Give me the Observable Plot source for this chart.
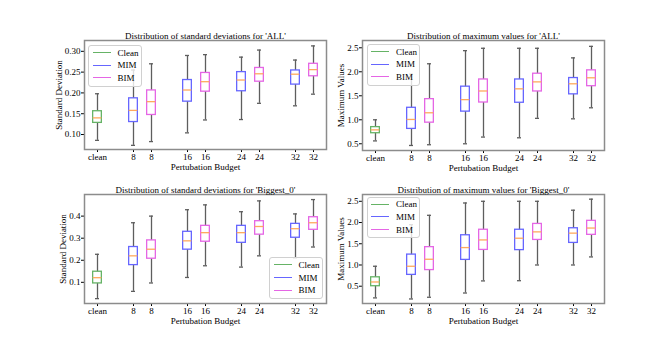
<!DOCTYPE html>
<html><head><meta charset="utf-8">
<script src="https://cdn.jsdelivr.net/npm/d3@7"></script>
<script src="https://cdn.jsdelivr.net/npm/@observablehq/plot@0.6"></script>
<style>
body{margin:0;background:#fff;}
#fig{position:relative;width:672px;height:341px;overflow:hidden;background:#fff;font-family:"Liberation Serif","Times New Roman",serif;}
#fig svg text{font-size:9px !important;font-family:"Liberation Serif","Times New Roman",serif !important;}
.panel{position:absolute;}
.legend{position:absolute;background:rgba(255,255,255,0.8);border:1px solid #d0d0d0;border-radius:3px;box-sizing:border-box;font-size:9px;color:#000;}
.legend .row{position:absolute;left:0;right:0;height:12px;line-height:12px;transform:translateY(-50%);}
.legend .sw{position:absolute;left:3.5px;width:18px;top:5.5px;border-top:1.3px solid;}
.legend .lb{position:absolute;left:28.5px;top:0;}
</style>
</head><body><div id="fig"></div>
<script>
// layout of the x axis: boxes with gaps between budget groups
const slots = ["clean","gap8","MIM 8","BIM 8","gap16","MIM 16","BIM 16","gap24","MIM 24","BIM 24","gap32","MIM 32","BIM 32"];
const boxKeys = ["clean","MIM 8","BIM 8","MIM 16","BIM 16","MIM 24","BIM 24","MIM 32","BIM 32"];
const budgets = ["clean","8","8","16","16","24","24","32","32"];
const methods = ["Clean","MIM","BIM","MIM","BIM","MIM","BIM","MIM","BIM"];
const legendLabels = ["Clean","MIM","BIM"];
const colors = ["#66b366","#6666ff","#e566e5"];

// Panel 1: standard deviations, 'ALL'
const stdAllLow  = [0.086,0.074,0.083,0.104,0.135,0.136,0.175,0.169,0.197];
const stdAllQ1   = [0.128,0.130,0.147,0.179,0.203,0.204,0.227,0.220,0.240];
const stdAllMed  = [0.140,0.158,0.179,0.207,0.227,0.231,0.246,0.245,0.256];
const stdAllQ3   = [0.156,0.187,0.206,0.231,0.248,0.250,0.260,0.254,0.270];
const stdAllHigh = [0.198,0.255,0.270,0.290,0.292,0.286,0.303,0.279,0.313];

// Panel 2: maximum values, 'ALL'
const maxAllLow  = [0.56,0.465,0.48,0.50,0.64,0.625,1.03,1.02,1.25];
const maxAllQ1   = [0.72,0.81,0.94,1.17,1.36,1.355,1.59,1.53,1.70];
const maxAllMed  = [0.79,1.007,1.146,1.42,1.60,1.645,1.79,1.75,1.875];
const maxAllQ3   = [0.847,1.25,1.43,1.69,1.84,1.84,1.96,1.87,2.03];
const maxAllHigh = [1.0,1.95,2.167,2.44,2.49,2.49,2.49,2.29,2.53];

// Panel 3: standard deviations, 'Biggest_0'
const stdBigLow  = [0.026,0.059,0.097,0.122,0.175,0.169,0.220,0.211,0.260];
const stdBigQ1   = [0.095,0.178,0.207,0.248,0.284,0.279,0.316,0.302,0.338];
const stdBigMed  = [0.121,0.220,0.250,0.288,0.325,0.325,0.353,0.343,0.370];
const stdBigQ3   = [0.148,0.260,0.290,0.329,0.356,0.356,0.377,0.365,0.395];
const stdBigHigh = [0.227,0.370,0.400,0.429,0.451,0.420,0.469,0.410,0.475];

// Panel 4: maximum values, 'Biggest_0'
const maxBigLow  = [0.225,0.20,0.24,0.34,0.625,0.63,1.0,1.0,1.19];
const maxBigQ1   = [0.50,0.767,0.88,1.12,1.355,1.35,1.59,1.52,1.71];
const maxBigMed  = [0.60,0.97,1.135,1.41,1.59,1.63,1.78,1.75,1.87];
const maxBigQ3   = [0.71,1.245,1.42,1.70,1.83,1.83,1.967,1.865,2.04];
const maxBigHigh = [0.97,1.95,2.17,2.46,2.50,2.50,2.50,2.29,2.55];

const stdTicksAll = [0.10,0.15,0.20,0.25,0.30];
const stdTicksBig = [0.1,0.2,0.3,0.4];
const maxTicks = [0.5,1.0,1.5,2.0,2.5];

const fig = document.getElementById("fig");
const FONT = '"Liberation Serif","Times New Roman",serif';

function panel(o) {
  const rows = boxKeys.map((k, i) => ({key: k, method: methods[i], low: o.low[i], q1: o.q1[i], med: o.med[i], q3: o.q3[i], high: o.high[i]}));
  const bw = (o.width - o.mL - o.mR) / slots.length;
  const whisk = "#5e5e5e";
  const plot = Plot.plot({
    width: o.width, height: o.height,
    marginLeft: o.mL, marginRight: o.mR, marginTop: o.mT, marginBottom: o.mB,
    style: {fontFamily: FONT, fontSize: "9px", background: "transparent", color: "#000", overflow: "visible"},
    x: {type: "band", domain: slots, padding: 0},
    y: {domain: o.yDomain},
    color: {domain: legendLabels, range: colors},
    marks: [
      Plot.axisX({ticks: boxKeys, tickFormat: k => budgets[boxKeys.indexOf(k)], tickSize: 3, tickPadding: 1,
        label: "Pertubation Budget", labelAnchor: "center", labelOffset: 20, labelArrow: "none"}),
      Plot.axisY({ticks: o.yTicks, tickFormat: d3.format(o.yFormat), tickSize: 3, tickPadding: 1,
        label: o.ylabel, labelAnchor: "center", labelOffset: o.yLabelOffset, labelArrow: "none"}),
      Plot.ruleX(rows, {x: "key", y1: "q3", y2: "high", stroke: whisk, strokeWidth: 1.3}),
      Plot.ruleX(rows, {x: "key", y1: "low", y2: "q1", stroke: whisk, strokeWidth: 1.3}),
      Plot.tickY(rows, {x: "key", y: "high", stroke: whisk, strokeWidth: 1.3, insetLeft: bw * 0.375, insetRight: bw * 0.375}),
      Plot.tickY(rows, {x: "key", y: "low", stroke: whisk, strokeWidth: 1.3, insetLeft: bw * 0.375, insetRight: bw * 0.375}),
      Plot.barY(rows, {x: "key", y1: "q1", y2: "q3", fill: "none", stroke: "method", strokeWidth: 1.3, insetLeft: bw * 0.25, insetRight: bw * 0.25}),
      Plot.tickY(rows, {x: "key", y: "med", stroke: "#ffa95e", strokeWidth: 1.3, insetLeft: bw * 0.25, insetRight: bw * 0.25}),
      Plot.frame({stroke: "#8c8c8c", strokeWidth: 1.5}),
      Plot.text([o.title], {frameAnchor: "top", lineAnchor: "bottom", dy: -1.5, fill: "#000"})
    ]
  });
  const div = document.createElement("div");
  div.className = "panel";
  div.style.left = o.left + "px";
  div.style.top = o.top + "px";
  div.appendChild(plot);
  fig.appendChild(div);

  // legend
  const lg = document.createElement("div");
  lg.className = "legend";
  lg.style.left = o.legend[0] + "px";
  lg.style.top = o.legend[1] + "px";
  lg.style.width = o.legend[2] + "px";
  lg.style.height = o.legend[3] + "px";
  legendLabels.forEach((name, i) => {
    const r = document.createElement("div");
    r.className = "row";
    r.style.top = (6.6 + i * 12.65) + "px";
    const sw = document.createElement("span");
    sw.className = "sw";
    sw.style.borderTopColor = colors[i];
    const lb = document.createElement("span");
    lb.className = "lb";
    lb.textContent = name;
    r.appendChild(sw); r.appendChild(lb);
    lg.appendChild(r);
  });
  fig.appendChild(lg);
}

panel({low: stdAllLow, q1: stdAllQ1, med: stdAllMed, q3: stdAllQ3, high: stdAllHigh,
  title: "Distribution of standard deviations for 'ALL'", ylabel: "Standard Deviation",
  yDomain: [0.064, 0.326], yTicks: stdTicksAll, yFormat: ".2f", yLabelOffset: 29,
  left: 0, top: 0, width: 336, height: 180, mL: 84, mR: 10, mT: 40, mB: 31,
  legend: [88, 45, 53.5, 42]});

panel({low: maxAllLow, q1: maxAllQ1, med: maxAllMed, q3: maxAllQ3, high: maxAllHigh,
  title: "Distribution of maximum values for 'ALL'", ylabel: "Maximum Values",
  yDomain: [0.36, 2.652], yTicks: maxTicks, yFormat: ".1f", yLabelOffset: 25,
  left: 316, top: 0, width: 356, height: 180, mL: 46, mR: 68, mT: 40, mB: 30,
  legend: [366.5, 44, 53, 41.5]});

panel({low: stdBigLow, q1: stdBigQ1, med: stdBigMed, q3: stdBigQ3, high: stdBigHigh,
  title: "Distribution of standard deviations for 'Biggest_0'", ylabel: "Standard Deviation",
  yDomain: [0.004, 0.498], yTicks: stdTicksBig, yFormat: ".1f", yLabelOffset: 25,
  left: 0, top: 160, width: 336, height: 181, mL: 84, mR: 10, mT: 34, mB: 38,
  legend: [269, 257.3, 54, 42]});

panel({low: maxBigLow, q1: maxBigQ1, med: maxBigMed, q3: maxBigQ3, high: maxBigHigh,
  title: "Distribution of maximum values for 'Biggest_0'", ylabel: "Maximum Values",
  yDomain: [0.093, 2.66], yTicks: maxTicks, yFormat: ".1f", yLabelOffset: 24.5,
  left: 316, top: 160, width: 356, height: 181, mL: 46, mR: 68, mT: 34, mB: 38,
  legend: [366.5, 196.7, 53, 41.6]});
</script>
</body></html>
